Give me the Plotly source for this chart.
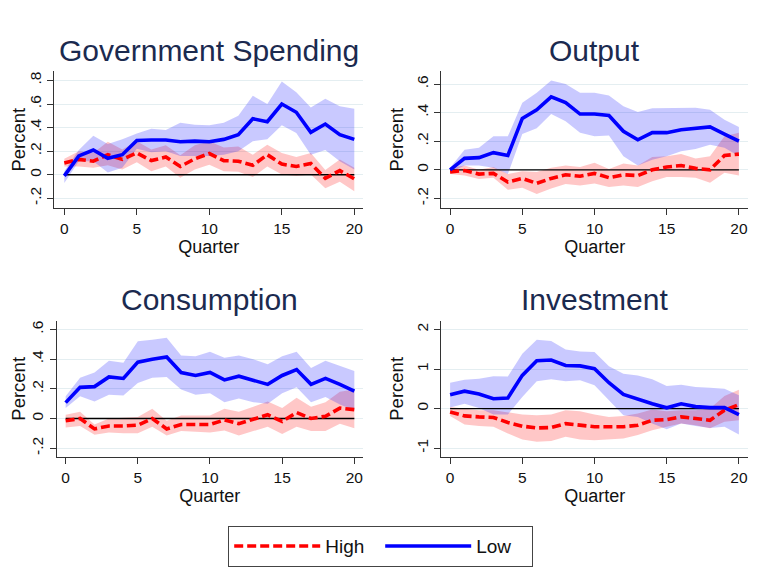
import plotly.graph_objects as go

quarters = list(range(21))

# Government Spending
gov_low = [-0.01, 0.16, 0.21, 0.14, 0.17, 0.29, 0.295, 0.295, 0.28, 0.285, 0.28, 0.30, 0.34, 0.475, 0.45, 0.60, 0.53, 0.36, 0.43, 0.34, 0.30]
gov_low_up = [0.03, 0.21, 0.33, 0.26, 0.30, 0.35, 0.39, 0.38, 0.44, 0.425, 0.42, 0.44, 0.50, 0.67, 0.60, 0.79, 0.70, 0.57, 0.645, 0.58, 0.56]
gov_low_lo = [-0.07, 0.115, 0.115, 0.02, 0.06, 0.22, 0.19, 0.20, 0.16, 0.16, 0.16, 0.17, 0.20, 0.285, 0.30, 0.42, 0.355, 0.17, 0.21, 0.115, 0.045]
gov_high = [0.10, 0.13, 0.115, 0.17, 0.13, 0.185, 0.12, 0.15, 0.07, 0.135, 0.18, 0.12, 0.115, 0.08, 0.17, 0.09, 0.07, 0.095, -0.03, 0.035, -0.035]
gov_high_up = [0.135, 0.20, 0.185, 0.28, 0.215, 0.285, 0.215, 0.25, 0.165, 0.25, 0.285, 0.23, 0.24, 0.17, 0.255, 0.185, 0.15, 0.185, 0.04, 0.13, 0.06]
gov_high_lo = [0.07, 0.07, 0.06, 0.08, 0.045, 0.105, 0.03, 0.07, -0.025, 0.045, 0.085, 0.03, 0.025, -0.02, 0.07, 0.003, -0.01, 0.003, -0.115, -0.06, -0.14]

# Output
out_low = [0.0, 0.08, 0.085, 0.12, 0.10, 0.36, 0.42, 0.51, 0.47, 0.39, 0.39, 0.38, 0.27, 0.21, 0.26, 0.26, 0.28, 0.29, 0.30, 0.25, 0.20]
out_low_up = [0.015, 0.14, 0.155, 0.235, 0.235, 0.47, 0.54, 0.625, 0.60, 0.54, 0.54, 0.52, 0.445, 0.405, 0.43, 0.43, 0.43, 0.435, 0.42, 0.35, 0.30]
out_low_lo = [-0.02, 0.03, 0.03, 0.015, -0.03, 0.25, 0.29, 0.39, 0.34, 0.26, 0.235, 0.24, 0.095, 0.03, 0.07, 0.095, 0.13, 0.145, 0.175, 0.155, 0.095]
out_high = [-0.015, -0.005, -0.03, -0.025, -0.085, -0.06, -0.095, -0.06, -0.035, -0.045, -0.025, -0.055, -0.035, -0.04, 0.0, 0.02, 0.03, 0.01, 0.0, 0.10, 0.11]
out_high_up = [0.015, 0.03, 0.0, 0.02, -0.03, -0.01, -0.015, 0.015, 0.03, 0.02, 0.05, 0.005, 0.045, 0.03, 0.09, 0.095, 0.11, 0.08, 0.095, 0.235, 0.26]
out_high_lo = [-0.03, -0.04, -0.065, -0.055, -0.14, -0.125, -0.17, -0.13, -0.10, -0.11, -0.095, -0.12, -0.11, -0.12, -0.08, -0.05, -0.05, -0.055, -0.09, -0.02, -0.04]

# Consumption
con_low = [0.107, 0.21, 0.215, 0.28, 0.27, 0.38, 0.40, 0.415, 0.31, 0.29, 0.31, 0.26, 0.285, 0.26, 0.23, 0.29, 0.33, 0.23, 0.27, 0.23, 0.185]
con_low_up = [0.15, 0.275, 0.31, 0.39, 0.375, 0.52, 0.53, 0.545, 0.425, 0.42, 0.45, 0.41, 0.425, 0.40, 0.365, 0.42, 0.45, 0.34, 0.39, 0.355, 0.32]
con_low_lo = [0.07, 0.15, 0.115, 0.16, 0.155, 0.24, 0.275, 0.28, 0.195, 0.16, 0.17, 0.11, 0.135, 0.11, 0.10, 0.17, 0.21, 0.11, 0.145, 0.095, 0.055]
con_high = [-0.015, 0.0, -0.07, -0.05, -0.05, -0.045, 0.0, -0.07, -0.04, -0.04, -0.04, -0.01, -0.035, -0.005, 0.025, -0.02, 0.04, 0.0, 0.015, 0.07, 0.06]
con_high_up = [0.025, 0.045, -0.04, 0.0, 0.005, 0.01, 0.065, -0.015, 0.02, 0.02, 0.02, 0.065, 0.045, 0.08, 0.115, 0.07, 0.14, 0.08, 0.11, 0.18, 0.195]
con_high_lo = [-0.06, -0.05, -0.11, -0.095, -0.10, -0.10, -0.055, -0.115, -0.085, -0.09, -0.095, -0.08, -0.115, -0.085, -0.055, -0.105, -0.055, -0.085, -0.085, -0.035, -0.065]

# Investment
inv_low = [0.35, 0.44, 0.37, 0.25, 0.27, 0.84, 1.21, 1.23, 1.09, 1.08, 1.01, 0.655, 0.36, 0.235, 0.125, 0.02, 0.12, 0.05, 0.025, 0.025, -0.15]
inv_low_up = [0.655, 0.73, 0.755, 0.82, 0.815, 1.39, 1.74, 1.71, 1.495, 1.445, 1.43, 1.07, 0.88, 0.84, 0.74, 0.57, 0.605, 0.545, 0.53, 0.505, 0.335]
inv_low_lo = [0.025, 0.125, 0.015, -0.15, -0.15, 0.295, 0.69, 0.74, 0.69, 0.715, 0.59, 0.21, -0.17, -0.21, -0.38, -0.52, -0.38, -0.44, -0.49, -0.46, -0.655]
inv_high = [-0.085, -0.185, -0.21, -0.225, -0.35, -0.445, -0.49, -0.48, -0.38, -0.42, -0.46, -0.46, -0.46, -0.42, -0.295, -0.28, -0.21, -0.25, -0.295, -0.04, 0.10]
inv_high_up = [0.04, 0.0, -0.04, -0.04, -0.10, -0.15, -0.17, -0.15, -0.04, -0.07, -0.15, -0.21, -0.185, -0.125, -0.025, -0.07, -0.04, -0.04, 0.0, 0.32, 0.48]
inv_high_lo = [-0.185, -0.40, -0.44, -0.46, -0.63, -0.78, -0.84, -0.82, -0.71, -0.78, -0.80, -0.78, -0.755, -0.67, -0.545, -0.46, -0.38, -0.42, -0.50, -0.335, -0.295]

titles = ["Government Spending", "Output", "Consumption", "Investment"]
x_ticks = [0, 5, 10, 15, 20]

panels = [
    dict(title=titles[0], low=gov_low, low_up=gov_low_up, low_lo=gov_low_lo,
         high=gov_high, high_up=gov_high_up, high_lo=gov_high_lo,
         yticks=[-0.2, 0, 0.2, 0.4, 0.6, 0.8], yticktext=["-.2", "0", ".2", ".4", ".6", ".8"],
         yrange=[-0.282, 0.876], xrange=[-0.69, 20.6]),
    dict(title=titles[1], low=out_low, low_up=out_low_up, low_lo=out_low_lo,
         high=out_high, high_up=out_high_up, high_lo=out_high_lo,
         yticks=[-0.2, 0, 0.2, 0.4, 0.6], yticktext=["-.2", "0", ".2", ".4", ".6"],
         yrange=[-0.267, 0.688], xrange=[-0.63, 20.65]),
    dict(title=titles[2], low=con_low, low_up=con_low_up, low_lo=con_low_lo,
         high=con_high, high_up=con_high_up, high_lo=con_high_lo,
         yticks=[-0.2, 0, 0.2, 0.4, 0.6], yticktext=["-.2", "0", ".2", ".4", ".6"],
         yrange=[-0.26, 0.66], xrange=[-0.62, 20.6]),
    dict(title=titles[3], low=inv_low, low_up=inv_low_up, low_lo=inv_low_lo,
         high=inv_high, high_up=inv_high_up, high_lo=inv_high_lo,
         yticks=[-1, 0, 1, 2], yticktext=["-1", "0", "1", "2"],
         yrange=[-1.227, 2.227], xrange=[-0.63, 20.65]),
]

# page has an 8px body margin: page pixel P -> figure pixel P - OFF
OFF = 8
W, H = 764 - OFF, 567 - OFF
# plot-area pixel boxes in page coords (left, right, top, bottom)
boxes = [(54.3, 363, 71.7, 208.7), (441, 748.3, 71.7, 208.7),
         (56.7, 363, 321.7, 458.7), (441, 748.3, 321.7, 458.7)]
title_baselines = [61, 61, 311, 311]

RED = "#ff0000"
BLUE = "#0000ff"
RED_FILL = "rgba(255,0,0,0.22)"
BLUE_FILL = "rgba(0,0,255,0.21)"
TITLE_COLOR = "#1b2a4f"
FONT = "Liberation Sans, Arial, Helvetica, sans-serif"


def px_x(p):
    return (p - OFF) / W


def px_y(p):
    return 1 - (p - OFF) / H


fig = go.Figure()
layout = dict(width=W, height=H, margin=dict(l=0, r=0, t=0, b=0),
              paper_bgcolor="white", plot_bgcolor="white",
              font=dict(family=FONT, color="#111111"),
              annotations=[])

for i, p in enumerate(panels):
    n = i + 1
    xa = "x" if n == 1 else f"x{n}"
    ya = "y" if n == 1 else f"y{n}"
    l, r, t, b = boxes[i]
    dom_x = [px_x(l), px_x(r)]
    dom_y = [px_y(b), px_y(t)]
    axis_common = dict(showline=True, linecolor="#333333", linewidth=1.2,
                       ticks="outside", ticklen=6, tickcolor="#333333", tickwidth=1.2,
                       tickfont=dict(size=15.5, color="#111111"), zeroline=False)
    layout[f"xaxis{'' if n == 1 else n}"] = dict(
        domain=dom_x, anchor=ya, range=p["xrange"], tickvals=x_ticks,
        showgrid=False, title=dict(text="Quarter", font=dict(size=18, color="#111111"), standoff=1),
        **axis_common)
    layout[f"yaxis{'' if n == 1 else n}"] = dict(
        domain=dom_y, anchor=xa, range=p["yrange"], tickvals=p["yticks"], ticktext=p["yticktext"],
        tickangle=-90, showgrid=True, gridcolor="#e4eef1", gridwidth=1,
        title=dict(text="Percent", font=dict(size=18.5, color="#111111"), standoff=5),
        **axis_common)

    # bands
    fig.add_trace(go.Scatter(x=quarters, y=p["high_lo"], xaxis=xa, yaxis=ya, mode="lines",
                             line=dict(width=0), showlegend=False, hoverinfo="skip"))
    fig.add_trace(go.Scatter(x=quarters, y=p["high_up"], xaxis=xa, yaxis=ya, mode="lines",
                             line=dict(width=0), fill="tonexty", fillcolor=RED_FILL,
                             showlegend=False, hoverinfo="skip"))
    fig.add_trace(go.Scatter(x=quarters, y=p["low_lo"], xaxis=xa, yaxis=ya, mode="lines",
                             line=dict(width=0), showlegend=False, hoverinfo="skip"))
    fig.add_trace(go.Scatter(x=quarters, y=p["low_up"], xaxis=xa, yaxis=ya, mode="lines",
                             line=dict(width=0), fill="tonexty", fillcolor=BLUE_FILL,
                             showlegend=False, hoverinfo="skip"))
    # zero line
    fig.add_trace(go.Scatter(x=[quarters[0], quarters[-1]], y=[0, 0], xaxis=xa, yaxis=ya,
                             mode="lines", line=dict(color="black", width=1.3),
                             showlegend=False, hoverinfo="skip"))
    # lines
    fig.add_trace(go.Scatter(x=quarters, y=p["high"], xaxis=xa, yaxis=ya, mode="lines",
                             name="High", line=dict(color=RED, width=3.6, dash="9px,4px"),
                             showlegend=(n == 1), legendrank=1))
    fig.add_trace(go.Scatter(x=quarters, y=p["low"], xaxis=xa, yaxis=ya, mode="lines",
                             name="Low", line=dict(color=BLUE, width=3.6),
                             showlegend=(n == 1), legendrank=2))

    layout["annotations"].append(dict(
        text=p["title"], x=px_x((l + r) / 2), y=px_y(title_baselines[i]), xref="paper", yref="paper",
        xanchor="center", yanchor="bottom", showarrow=False,
        font=dict(size=30, color=TITLE_COLOR, family=FONT), yshift=-8))

layout["legend"] = dict(orientation="h", x=px_x(228), xanchor="left", y=px_y(528), yanchor="top",
                        bordercolor="#444444", borderwidth=1.2, bgcolor="white",
                        font=dict(size=19, color="#111111", family=FONT),
                        entrywidth=50, itemwidth=86, traceorder="normal")

fig.update_layout(**layout)
fig.write_html("out.html")
